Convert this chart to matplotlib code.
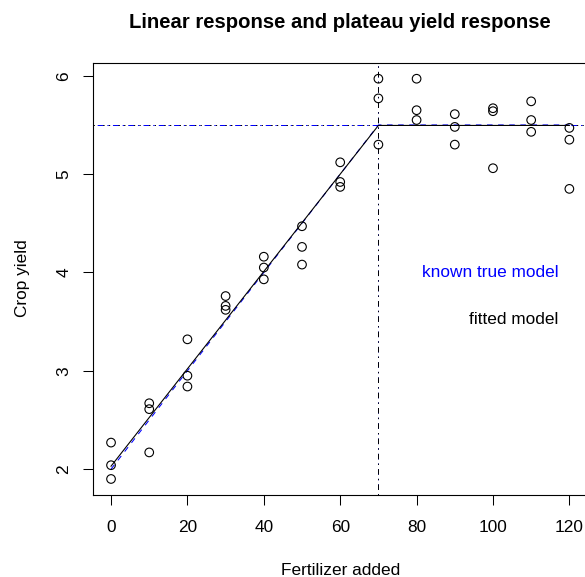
import matplotlib
matplotlib.use("Agg")
from matplotlib import pyplot as plt

plt.rcParams["font.family"] = ["Liberation Sans", "DejaVu Sans"]
plt.rcParams["lines.scale_dashes"] = False

# fertilizer levels, three plots each
fert = [0, 0, 0, 10, 10, 10, 20, 20, 20, 30, 30, 30, 40, 40, 40,
        50, 50, 50, 60, 60, 60, 70, 70, 70, 80, 80, 80, 90, 90, 90,
        100, 100, 100, 110, 110, 110, 120, 120, 120]
crop_yield = [2.27, 2.04, 1.90, 2.67, 2.61, 2.17, 3.32, 2.95, 2.84,
              3.76, 3.66, 3.62, 4.16, 4.05, 3.93, 4.47, 4.26, 4.08,
              5.12, 4.92, 4.87, 5.97, 5.77, 5.30, 5.97, 5.65, 5.55,
              5.61, 5.48, 5.30, 5.67, 5.64, 5.06, 5.74, 5.55, 5.43,
              5.47, 5.35, 4.85]

# model curves: start, join point, end
model_x = [0, 70, 120]
true_y = [2.00, 5.50, 5.50]
fitted_y = [2.03, 5.495, 5.495]
true_join = (70, 5.50)
fitted_join = (69.9, 5.495)

x_ticks = [0, 20, 40, 60, 80, 100, 120]
y_ticks = [2, 3, 4, 5, 6]

W, H = 585, 577
fig = plt.figure(figsize=(W / 100, H / 100), dpi=100)
# plot box runs a few pixels past the right edge, like the original
ax = fig.add_axes([92.7 / W, 1 - 495 / H, 495 / W, 432.3 / H])

ax.scatter(fert, crop_yield, s=6.2 ** 2, facecolors="none", edgecolors="black",
           linewidths=0.8, zorder=3)

dotdash = (0, (1, 3, 4, 3))
ax.axvline(true_join[0], color="blue", lw=0.7, linestyle=dotdash)
ax.axvline(fitted_join[0], color="black", lw=0.7, linestyle=dotdash)
ax.axhline(fitted_join[1], color="black", lw=0.7, linestyle=dotdash)
ax.axhline(true_join[1], color="blue", lw=0.7, linestyle=(1, (1, 3, 4, 3)))

ax.plot(model_x, true_y, color="blue", lw=0.75, linestyle=(0, (4, 4)))
ax.plot(model_x, fitted_y, color="black", lw=0.8)

ax.text(117.2, 4.0, "known true model", color="blue", fontsize=12.4,
        ha="right", va="center")
ax.text(117.2, 3.52, "fitted model", color="black", fontsize=12.4,
        ha="right", va="center")

ax.set_xlim(-4.8, 124.8)
ax.set_ylim(1.737, 6.133)
ax.set_xticks(x_ticks)
ax.set_yticks(y_ticks)
ax.set_xticklabels([str(t) for t in x_ticks], fontsize=12.4)
ax.set_yticklabels([str(t) for t in y_ticks], fontsize=12.4, rotation=90, va="center")
ax.tick_params(axis="x", direction="out", length=7.2, width=0.75, pad=11)
ax.tick_params(axis="y", direction="out", length=7.2, width=0.75, pad=8)
for sp in ax.spines.values():
    sp.set_linewidth(0.8)

fig.text(340 / W, 1 - 28 / H, "Linear response and plateau yield response",
         fontsize=14.6, fontweight="bold", ha="center", va="baseline")
fig.text(340.5 / W, 1 - 575 / H, "Fertilizer added", fontsize=12.4,
         ha="center", va="baseline")
fig.text(27.3 / W, 1 - 278 / H, "Crop yield", fontsize=12.4, rotation=90,
         rotation_mode="anchor", ha="center", va="baseline")

fig.savefig("out.png", dpi=100)
